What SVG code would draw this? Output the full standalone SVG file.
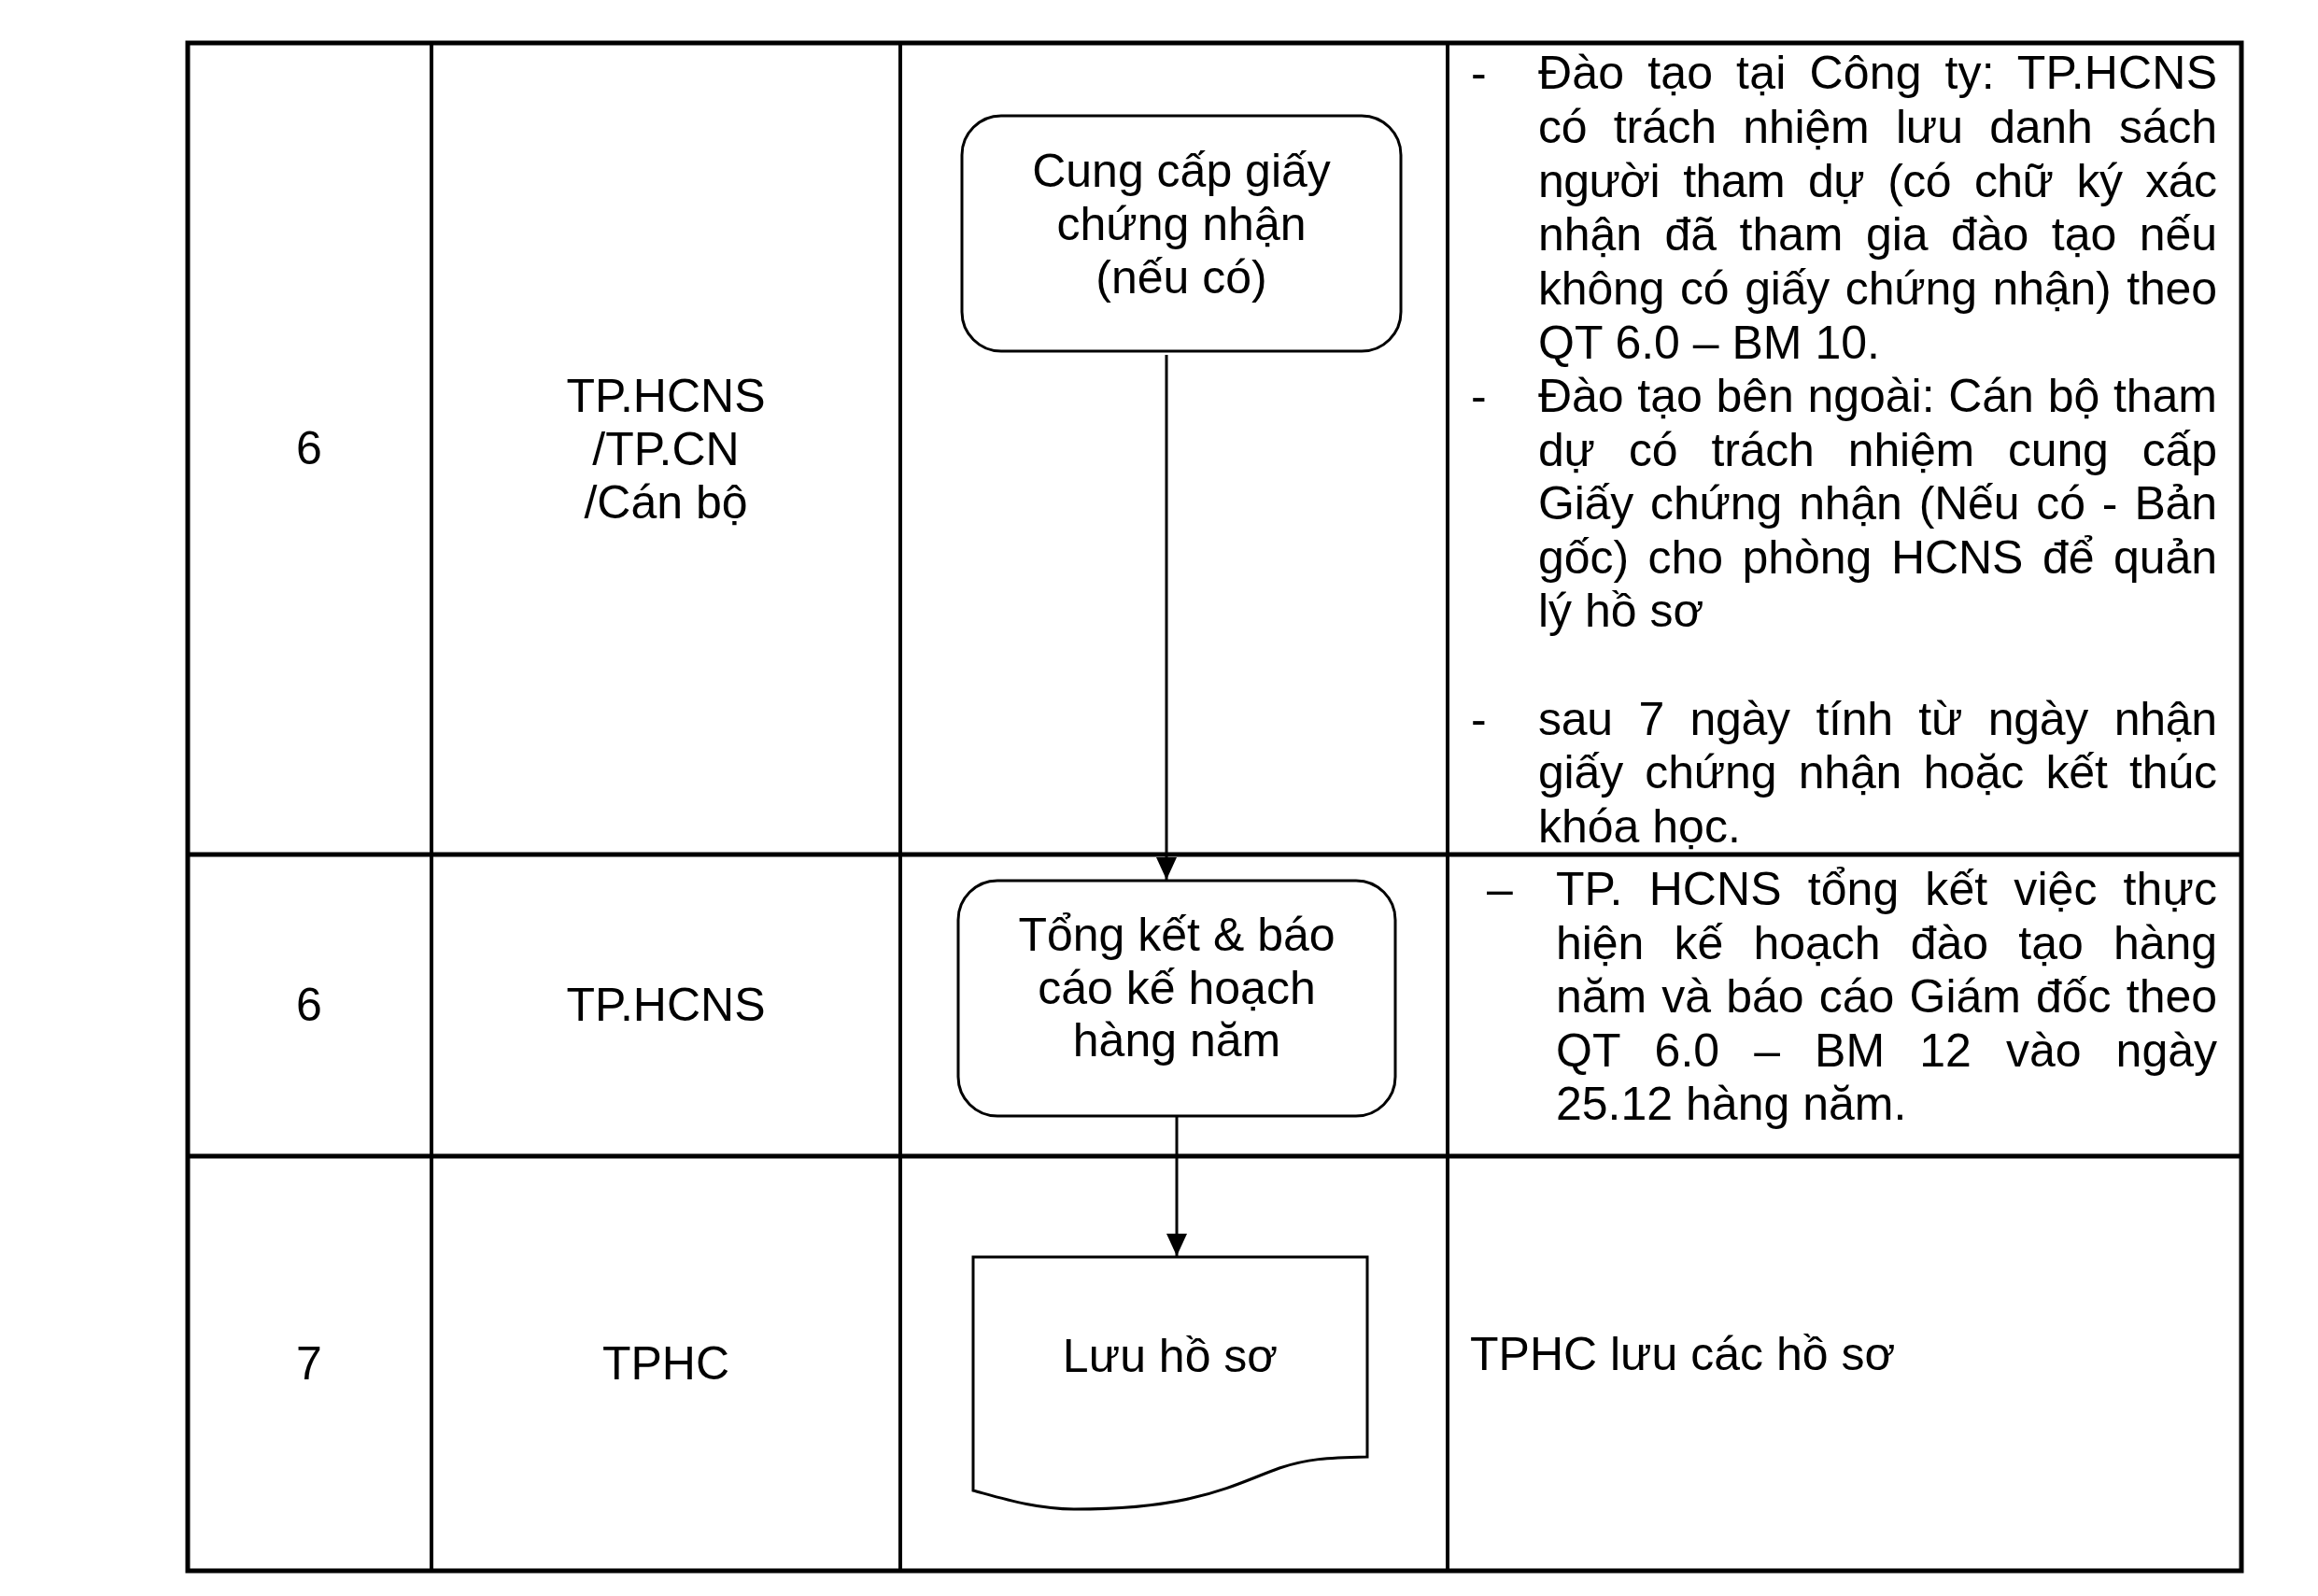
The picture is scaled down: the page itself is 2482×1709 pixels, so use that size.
<svg xmlns="http://www.w3.org/2000/svg" width="2482" height="1709" viewBox="0 0 2482 1709">
<style>
text{font-family:"Liberation Sans",Arial,sans-serif;font-size:50px;fill:#000}
.c{text-anchor:middle}
.grid{stroke:#000;fill:none}
.node{fill:#fff;stroke:#000;stroke-width:3}
.conn{stroke:#000;stroke-width:3;fill:none}
</style>
<defs>
<marker id="arr" markerUnits="userSpaceOnUse" markerWidth="24" markerHeight="22" refX="24" refY="11" orient="auto">
<path d="M0,0 L24,11 L0,22 Z" fill="#000"/>
</marker>
</defs>
<rect width="2482" height="1709" fill="#fff"/>
<g id="table">
<line class="grid" x1="462" y1="46" x2="462" y2="1682" stroke-width="4"/>
<line class="grid" x1="964" y1="46" x2="964" y2="1682" stroke-width="4"/>
<line class="grid" x1="1550" y1="46" x2="1550" y2="1682" stroke-width="4"/>
<line class="grid" x1="201" y1="915" x2="2400" y2="915" stroke-width="5"/>
<line class="grid" x1="201" y1="1238" x2="2400" y2="1238" stroke-width="5"/>
<rect class="grid" x="201" y="46" width="2199" height="1636" stroke-width="5"/>
</g>
<g id="row1-labels">
<text class="c" x="331" y="497">6</text>
<text class="c" x="713" y="441">TP.HCNS</text>
<text class="c" x="713" y="498">/TP.CN</text>
<text class="c" x="713" y="555">/Cán bộ</text>
</g>
<g id="row2-labels">
<text class="c" x="331" y="1093">6</text>
<text class="c" x="713" y="1093">TP.HCNS</text>
</g>
<g id="row3-labels">
<text class="c" x="331" y="1477">7</text>
<text class="c" x="713" y="1477">TPHC</text>
</g>
<g id="connectors">
<line class="conn" x1="1249" y1="380" x2="1249" y2="942" marker-end="url(#arr)"/>
<line class="conn" x1="1260" y1="1195" x2="1260" y2="1345" marker-end="url(#arr)"/>
</g>
<g id="node-cung-cap">
<rect class="node" x="1030" y="124" width="470" height="252" rx="42" ry="42"/>
<text class="c" x="1265" y="200">Cung cấp giấy</text>
<text class="c" x="1265" y="257">chứng nhận</text>
<text class="c" x="1265" y="314">(nếu có)</text>
</g>
<g id="node-tong-ket">
<rect class="node" x="1026" y="943" width="468" height="252" rx="42" ry="42"/>
<text class="c" x="1260" y="1018">Tổng kết &amp; báo</text>
<text class="c" x="1260" y="1075">cáo kế hoạch</text>
<text class="c" x="1260" y="1131">hàng năm</text>
</g>
<g id="node-luu-ho-so">
<path class="node" stroke-width="3.5" d="M1042,1346 H1464 V1560 C1420,1561 1400,1562 1370,1572 C1320,1590 1280,1616 1150,1616 C1110,1616 1075,1605 1042,1596 Z"/>
<text class="c" x="1253" y="1469">Lưu hồ sơ</text>
</g>
<g id="desc-row1">
<text x="1575" y="95">-</text>
<text x="1647" y="95" word-spacing="10.8" textLength="727" lengthAdjust="spacing">Đào tạo tại Công ty: TP.HCNS</text>
<text x="1647" y="153" word-spacing="14.7" textLength="727" lengthAdjust="spacing">có trách nhiệm lưu danh sách</text>
<text x="1647" y="211" word-spacing="11.7" textLength="727" lengthAdjust="spacing">người tham dự (có chữ ký xác</text>
<text x="1647" y="268" word-spacing="10.8" textLength="727" lengthAdjust="spacing">nhận đã tham gia đào tạo nếu</text>
<text x="1647" y="326" word-spacing="3" textLength="727" lengthAdjust="spacing">không có giấy chứng nhận) theo</text>
<text x="1647" y="384">QT 6.0 – BM 10.</text>
<text x="1575" y="441">-</text>
<text x="1647" y="441" word-spacing="1" textLength="727" lengthAdjust="spacing">Đào tạo bên ngoài: Cán bộ tham</text>
<text x="1647" y="499" word-spacing="22.5" textLength="727" lengthAdjust="spacing">dự có trách nhiệm cung cấp</text>
<text x="1647" y="556" word-spacing="4.4" textLength="727" lengthAdjust="spacing">Giấy chứng nhận (Nếu có - Bản</text>
<text x="1647" y="614" word-spacing="6.8" textLength="727" lengthAdjust="spacing">gốc) cho phòng HCNS để quản</text>
<text x="1647" y="671">lý hồ sơ</text>
<text x="1575" y="787">-</text>
<text x="1647" y="787" word-spacing="14.1" textLength="727" lengthAdjust="spacing">sau 7 ngày tính từ ngày nhận</text>
<text x="1647" y="844" word-spacing="9.7" textLength="727" lengthAdjust="spacing">giấy chứng nhận hoặc kết thúc</text>
<text x="1647" y="902">khóa học.</text>
</g>
<g id="desc-row2">
<text x="1592" y="969">–</text>
<text x="1666" y="969" word-spacing="14.1" textLength="708" lengthAdjust="spacing">TP. HCNS tổng kết việc thực</text>
<text x="1666" y="1027" word-spacing="18.4" textLength="708" lengthAdjust="spacing">hiện kế hoạch đào tạo hàng</text>
<text x="1666" y="1084" word-spacing="2.4" textLength="708" lengthAdjust="spacing">năm và báo cáo Giám đốc theo</text>
<text x="1666" y="1142" word-spacing="23.2" textLength="708" lengthAdjust="spacing">QT 6.0 – BM 12 vào ngày</text>
<text x="1666" y="1199">25.12 hàng năm.</text>
</g>
<g id="desc-row3">
<text x="1574" y="1467">TPHC lưu các hồ sơ</text>
</g>
</svg>
